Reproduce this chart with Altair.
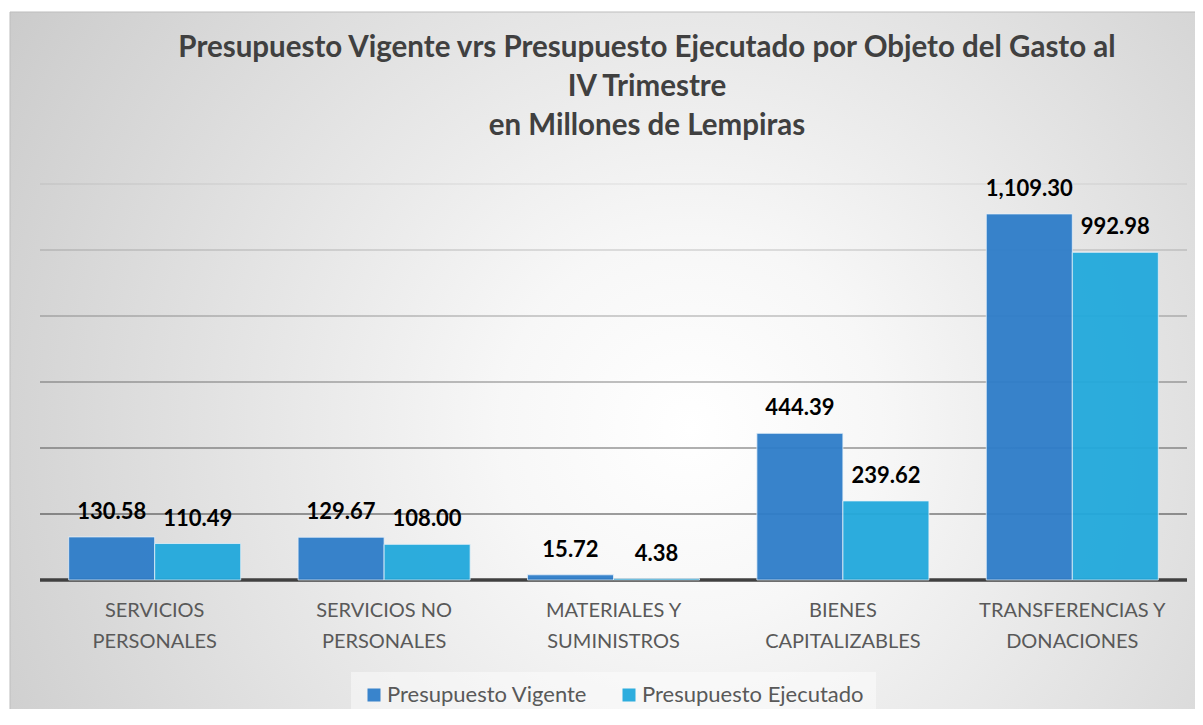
import altair as alt
import pandas as pd

categories = [
    "SERVICIOS\nPERSONALES",
    "SERVICIOS NO\nPERSONALES",
    "MATERIALES Y\nSUMINISTROS",
    "BIENES\nCAPITALIZABLES",
    "TRANSFERENCIAS Y\nDONACIONES",
]
series = ["Presupuesto Vigente", "Presupuesto Ejecutado"]
vigente = [130.58, 129.67, 15.72, 444.39, 1109.30]
ejecutado = [110.49, 108.00, 4.38, 239.62, 992.98]
grid_values = [200, 400, 600, 800, 1000, 1200]
title_lines = [
    "Presupuesto Vigente vrs Presupuesto Ejecutado por Objeto del Gasto al",
    "IV Trimestre",
    "en Millones de Lempiras",
]

rows = []
for c, v, e in zip(categories, vigente, ejecutado):
    rows.append({"cat": c, "serie": series[0], "val": v})
    rows.append({"cat": c, "serie": series[1], "val": e})
df = pd.DataFrame(rows)
grid_df = pd.DataFrame({"g": grid_values})
base_df = pd.DataFrame({"g": [0]})
one_df = pd.DataFrame({"a": [0]})

W, H = 1147, 396
FONT = "Lato"

x_enc = alt.X(
    "cat:N",
    sort=categories,
    scale=alt.Scale(paddingInner=0.25, paddingOuter=0.125),
    axis=alt.Axis(
        title=None, labelAngle=0, domain=False, ticks=False,
        labelExpr="split(datum.label, '\\n')",
        labelFont=FONT, labelFontSize=20, labelColor="#595959",
        labelPadding=20, labelLineHeight=31, labelBaseline="top",
        labelLimit=0, zindex=1,
    ),
)
y_scale = alt.Scale(domain=[0, 1200], nice=False, zero=True)

background = alt.Chart(one_df).mark_rect(
    fill=alt.Gradient(
        gradient="radial",
        stops=[
            alt.GradientStop(color="#ffffff", offset=0),
            alt.GradientStop(color="#f7f7f7", offset=0.2),
            alt.GradientStop(color="#c0c0c0", offset=1),
        ],
        x1=0.57, y1=0.55, x2=0.57, y2=0.55, r1=0, r2=0.8,
    ),
    stroke="#bdbdbd", strokeWidth=1,
).encode(
    x=alt.value(-30), x2=alt.value(1163),
    y=alt.value(-172), y2=alt.value(541),
)

title = alt.Chart(one_df).mark_text(
    font=FONT, fontSize=29.5, fontWeight="bold", color="#404040",
    lineHeight=39, align="center", baseline="middle",
).encode(
    x=alt.value(607), y=alt.value(-136),
    text=alt.value(title_lines),
)

grid = alt.Chart(grid_df).mark_rule(color="black", strokeWidth=1.5).encode(
    y=alt.Y("g:Q", scale=y_scale, axis=None),
    x=alt.value(0), x2=alt.value(W),
    opacity=alt.Opacity("g:Q", scale=alt.Scale(domain=[200, 1200], range=[0.5, 0.06]), legend=None),
)

baseline = alt.Chart(base_df).mark_rule(color="#404040", strokeWidth=3.5).encode(
    y=alt.Y("g:Q", scale=y_scale, axis=None),
    x=alt.value(0), x2=alt.value(W),
)

color = alt.Color(
    "serie:N",
    sort=series,
    scale=alt.Scale(domain=series, range=["#2E7DC9", "#22A9DC"]),
    legend=alt.Legend(
        title=None, orient="none", direction="horizontal",
        legendX=311, legendY=488,
        symbolType="square", symbolSize=169, symbolStrokeWidth=0,
        labelFont=FONT, labelFontSize=22, labelColor="#595959",
        columnPadding=30, labelOffset=2, padding=12, labelLimit=0,
        fillColor="rgba(255,255,255,0.45)", zindex=1,
    ),
)

bars = alt.Chart(df).mark_bar(stroke="#e6f1fa", strokeWidth=1, strokeOpacity=0.8, opacity=0.95).encode(
    x=x_enc,
    xOffset=alt.XOffset("serie:N", sort=series),
    y=alt.Y("val:Q", scale=y_scale, axis=None),
    color=color,
)

labels = alt.Chart(df).mark_text(
    font=FONT, fontSize=22, fontWeight="bold", color="black",
    baseline="alphabetic", dy=-18,
).encode(
    x=x_enc,
    xOffset=alt.XOffset("serie:N", sort=series),
    y=alt.Y("val:Q", scale=y_scale, axis=None),
    text=alt.Text("val:Q", format=",.2f"),
)

chart = alt.layer(background, title, grid, baseline, bars, labels).resolve_scale(
    opacity="independent"
).properties(
    width=W, height=H,
    autosize=alt.AutoSizeParams(type="none"),
    padding={"left": 32, "top": 176, "right": 8, "bottom": 129},
    background="white",
).configure_view(stroke=None)

chart.save("out.html", embed_options={"renderer": "svg", "actions": False})
